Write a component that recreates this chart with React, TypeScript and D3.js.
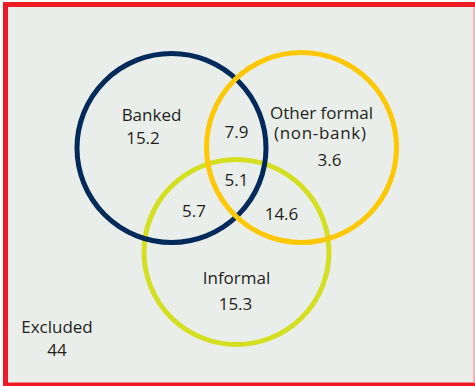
import React from "react";
import * as d3 from "d3";

// ---- Data ----
const setNames = ["Banked", "Other formal", "Informal"];
const setSubtitles = ["", "(non-bank)", ""];
const setColors = ["#002a5c", "#ffc800", "#d5df22"];
const regionKeys = ["B", "O", "I", "BO", "BOI", "BI", "OI", "none"];
const regionValues = [15.2, 3.6, 15.3, 7.9, 5.1, 5.7, 14.6, 44];
const excludedLabel = "Excluded";

// ---- Layout (positions, not data) ----
const W = 475;
const H = 386;
const circleLayout = [
  { cx: 171.5, cy: 148, r: 94.5 },
  { cx: 301.5, cy: 147.5, r: 95 },
  { cx: 236.5, cy: 252, r: 92.5 },
];
const valuePos: Record<string, [number, number]> = {
  B: [143, 144],
  O: [329.5, 166],
  I: [235.5, 309.5],
  BO: [236.5, 138],
  BOI: [236.5, 185.5],
  BI: [194, 216.5],
  OI: [281.5, 220],
  none: [57, 356],
};
const namePos: [number, number][] = [
  [151.5, 121],
  [321.5, 119],
  [236.5, 283.5],
];

const FONT = "'Open Sans', 'Noto Sans', sans-serif";
const TEXT = "#231f20";

export default function App() {
  const fmt = d3.format(".1f");
  const fmtVal = (v: number) => (Number.isInteger(v) ? String(v) : fmt(v));
  return (
    <svg
      width={W}
      height={H}
      style={{ position: "absolute", left: 0, top: 0, display: "block" }}
    >
      <rect x={0} y={0} width={W} height={H} fill="#ffffff" />
      <rect x={3} y={2} width={W} height={H} fill="#ed1c24" />
      <rect x={8} y={7} width={W - 8} height={382.5 - 7} fill="#eaeeea" />
      <rect x={473} y={7} width={2} height={382.5 - 7} fill="#f4b4b6" />
      {[2, 0, 1].map((i) => (
        <circle
          key={i}
          cx={circleLayout[i].cx}
          cy={circleLayout[i].cy}
          r={circleLayout[i].r}
          fill="none"
          stroke={setColors[i]}
          strokeWidth={5}
        />
      ))}
      <g fontFamily={FONT} fontSize={17} fill={TEXT} textAnchor="middle">
        {setNames.map((n, i) => (
          <text key={n} x={namePos[i][0]} y={namePos[i][1]}>
            {n}
          </text>
        ))}
        {setSubtitles.map((s, i) =>
          s ? (
            <text
              key={s}
              x={namePos[i][0] - 1.5}
              y={namePos[i][1] + 20}
              textLength={92}
              lengthAdjust="spacing"
            >
              {s}
            </text>
          ) : null
        )}
        <text x={57} y={332.5}>
          {excludedLabel}
        </text>
        {regionKeys.map((k, i) => (
          <text key={k} x={valuePos[k][0]} y={valuePos[k][1]}>
            {fmtVal(regionValues[i])}
          </text>
        ))}
      </g>
    </svg>
  );
}
